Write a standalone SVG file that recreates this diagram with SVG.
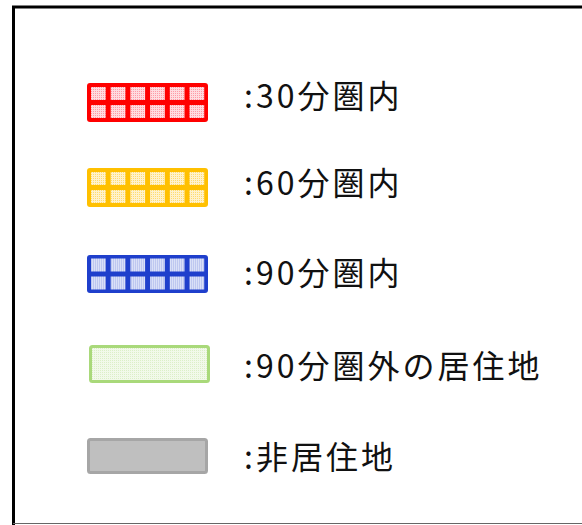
<svg xmlns="http://www.w3.org/2000/svg" width="582" height="525" viewBox="0 0 582 525">
<style>
.lbl{font-family:"Noto Sans CJK JP","Noto Sans",sans-serif;font-size:32px;letter-spacing:3px;fill:#111}
</style>
<defs>
<pattern id="pr" width="2" height="2" patternUnits="userSpaceOnUse"><rect width="2" height="2" fill="#FFDCE0"/><rect width="1" height="1" fill="#FF9AA6"/></pattern>
<pattern id="py" width="2" height="2" patternUnits="userSpaceOnUse"><rect width="2" height="2" fill="#FFF2CC"/><rect width="1" height="1" fill="#FFDC70"/></pattern>
<pattern id="pb" width="2" height="2" patternUnits="userSpaceOnUse"><rect width="2" height="2" fill="#DAE0F7"/><rect width="1" height="1" fill="#A2AEE8"/></pattern>
<pattern id="pg" width="2" height="2" patternUnits="userSpaceOnUse"><rect width="2" height="2" fill="#F2F9EA"/><rect width="1" height="1" fill="#DCEFC8"/></pattern>
<g id="cells">
<rect x="4" y="4" width="14.7" height="13"/><rect x="23.7" y="4" width="14.7" height="13"/><rect x="43.4" y="4" width="14.7" height="13"/><rect x="63.1" y="4" width="14.7" height="13"/><rect x="82.8" y="4" width="14.7" height="13"/><rect x="102.5" y="4" width="14.7" height="13"/>
<rect x="4" y="22" width="14.7" height="13"/><rect x="23.7" y="22" width="14.7" height="13"/><rect x="43.4" y="22" width="14.7" height="13"/><rect x="63.1" y="22" width="14.7" height="13"/><rect x="82.8" y="22" width="14.7" height="13"/><rect x="102.5" y="22" width="14.7" height="13"/>
</g>
</defs>
<path d="M13.5,525 V7 H582" fill="none" stroke="#000" stroke-width="3"/>
<line x1="13" y1="523.5" x2="582" y2="523.5" stroke="#666" stroke-width="1"/>
<g id="n30">
<rect x="87" y="83" width="121" height="39" rx="3" fill="#FF0000"/>
<use href="#cells" x="87" y="83" fill="url(#pr)"/>
<text class="lbl" x="244" y="108">:30分圏内</text>
</g>
<g id="n60">
<rect x="87" y="168" width="121" height="39" rx="3" fill="#FFC000"/>
<use href="#cells" x="87" y="168" fill="url(#py)"/>
<text class="lbl" x="244" y="195">:60分圏内</text>
</g>
<g id="n90">
<rect x="87" y="255" width="121" height="38" rx="3" fill="#1F3FCC"/>
<use href="#cells" x="87" y="254.5" fill="url(#pb)"/>
<text class="lbl" x="244" y="285">:90分圏内</text>
</g>
<g id="nout">
<rect x="90.5" y="346.5" width="118" height="35" rx="2" fill="url(#pg)" stroke="#A9D97A" stroke-width="3"/>
<text class="lbl" x="244" y="378">:90分圏外の居住地</text>
</g>
<g id="nnon">
<rect x="88.5" y="439.5" width="118" height="33" rx="2" fill="#BFBFBF" stroke="#A6A6A6" stroke-width="3"/>
<text class="lbl" x="244" y="469">:非居住地</text>
</g>
</svg>
